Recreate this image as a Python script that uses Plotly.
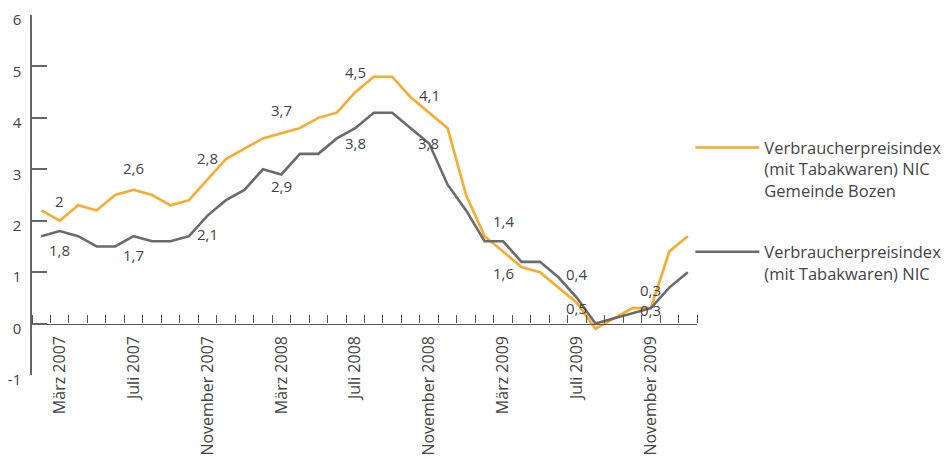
import plotly.graph_objects as go

# ---- data ----
n_months = 36
tick_label_idx = [1, 5, 9, 13, 17, 21, 25, 29, 33]
tick_labels = ["März 2007", "Juli 2007", "November 2007", "März 2008", "Juli 2008",
               "November 2008", "März 2009", "Juli 2009", "November 2009"]
y_ticks = [-1, 0, 1, 2, 3, 4, 5, 6]
y_tick_text = ["-1", "0", "1", "2", "3", "4", "5", "6"]

bozen = [2.2, 2.0, 2.3, 2.2, 2.5, 2.6, 2.5, 2.3, 2.4, 2.8, 3.2, 3.4,
         3.6, 3.7, 3.8, 4.0, 4.1, 4.5, 4.8, 4.8, 4.4, 4.1, 3.8, 2.5,
         1.7, 1.4, 1.1, 1.0, 0.7, 0.4, -0.1, 0.1, 0.3, 0.3, 1.4, 1.7]
nic = [1.7, 1.8, 1.7, 1.5, 1.5, 1.7, 1.6, 1.6, 1.7, 2.1, 2.4, 2.6,
       3.0, 2.9, 3.3, 3.3, 3.6, 3.8, 4.1, 4.1, 3.8, 3.5, 2.7, 2.2,
       1.6, 1.6, 1.2, 1.2, 0.9, 0.5, 0.0, 0.1, 0.2, 0.3, 0.7, 1.0]

name_bozen = "Verbraucherpreisindex<br>(mit Tabakwaren) NIC<br>Gemeinde Bozen"
name_nic = "Verbraucherpreisindex<br>(mit Tabakwaren) NIC"

# labelled points: (index of value, x pixel shift, y pixel shift)
bozen_labels = [(1, 0, 20), (5, 0, 22), (9, 0, 22), (13, 0, 23), (17, 0, 20),
                (21, 0, 18), (25, 0, 31), (29, 0, 29), (33, 0, 18)]
nic_labels = [(1, 0, -19), (5, 0, -19), (9, 0, -18), (13, 0, -12), (17, 0, -15),
              (20, 18, -15), (25, 0, -32), (29, 0, -10), (33, 0, -2)]

ORANGE = "#FBAA2B"
GREY = "#6B6B6D"
TXT = "#444444"
FONT = "Open Sans"

x = list(range(n_months))

fig = go.Figure()
fig.add_trace(go.Scatter(x=x, y=bozen, mode="lines", name=name_bozen,
                         line=dict(color=ORANGE, width=2.6), legendgroup="a"))
fig.add_trace(go.Scatter(x=x, y=nic, mode="lines", name=name_nic,
                         line=dict(color=GREY, width=2.6), legendgroup="b"))

def fmt(v):
    s = f"{v:.1f}"
    if s.endswith(".0"):
        s = s[:-2]
    return s.replace(".", ",")

for series, specs in ((bozen, bozen_labels), (nic, nic_labels)):
    for i, dx, dy in specs:
        fig.add_annotation(x=i, y=series[i], text=fmt(series[i]), showarrow=False,
                           xshift=dx, yshift=dy,
                           font=dict(family=FONT, size=15, color=TXT))

zero_pos = 1 / 7

# the page body adds an 8px margin, so the figure is 942x451
fig.update_layout(
    width=942, height=451,
    margin=dict(l=24, r=253, t=7, b=84, autoexpand=False),
    paper_bgcolor="white", plot_bgcolor="white",
    font=dict(family=FONT, color=TXT),
    showlegend=True,
    legend=dict(x=0.99, y=0.68, xanchor="left", yanchor="top",
                font=dict(family=FONT, size=16.5, color=TXT),
                valign="top", tracegroupgap=37, itemwidth=64,
                bgcolor="rgba(0,0,0,0)"),
    xaxis=dict(range=[-0.5, n_months - 0.5], anchor="free", position=zero_pos,
               automargin=False, ticklabeloverflow="allow",
               showline=True, linecolor="#555555", linewidth=1.2,
               showgrid=False, zeroline=False,
               tickmode="array", tickvals=tick_label_idx, ticktext=tick_labels,
               ticks="", tickangle=-90, ticklabelstandoff=5,
               tickfont=dict(family=FONT, size=16, color=TXT),
               minor=dict(ticks="inside", ticklen=8, tickcolor="#555555",
                          tickwidth=1, tick0=-0.5, dtick=1, showgrid=False)),
    yaxis=dict(range=[-1, 6], automargin=False, ticklabeloverflow="allow",
               showline=True, linecolor="#666666", linewidth=1.5,
               showgrid=False, zeroline=False,
               tickmode="array", tickvals=y_ticks, ticktext=y_tick_text,
               ticks="inside", ticklen=15, tickcolor="#666666", tickwidth=1.5,
               ticklabelstandoff=6, ticklabelshift=5,
               tickfont=dict(family=FONT, size=15, color=TXT)),
)

fig.write_html("out.html")
